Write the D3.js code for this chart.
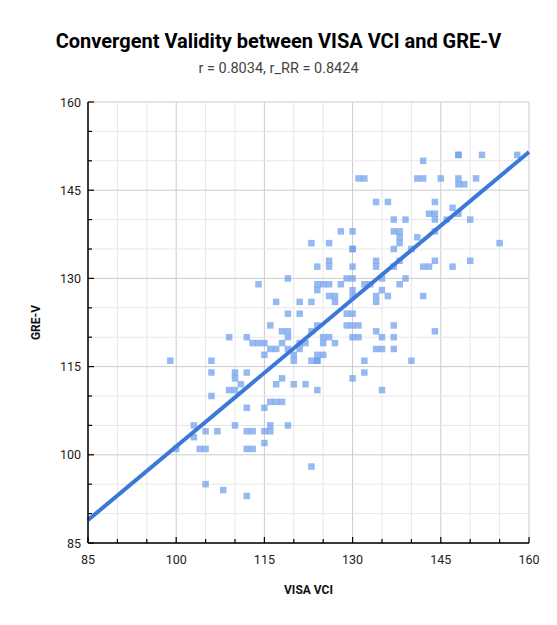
<!DOCTYPE html>
<html>
<head>
<meta charset="utf-8">
<script src="https://cdn.jsdelivr.net/npm/d3@7"></script>
<style>
  body { margin: 0; background: #fff; }
  text { font-family: Roboto, "Noto Sans", sans-serif; }
</style>
</head>
<body>
<div id="chart"></div>
<script>
const titleText = "Convergent Validity between VISA VCI and GRE-V"
const subtitleText = "r = 0.8034, r_RR = 0.8424"
const xLabel = "VISA VCI"
const yLabel = "GRE-V"

const majorTicks = [85, 100, 115, 130, 145, 160]
const minorTicks = d3.range(85, 161, 5)

// VISA VCI score for each student
const vci = [131, 132, 141, 142, 145, 148, 151, 148, 149, 148, 148, 152, 158, 142,
  134, 136, 144, 147, 143, 144, 148, 137, 139, 144, 146, 150, 128, 130, 137, 138,
  144, 138, 141, 123, 126, 138, 155, 130, 130, 137, 140, 126, 134, 138, 144, 150,
  124, 126, 130, 134, 137, 142, 143, 147, 119, 129, 130, 135, 139, 114, 124, 125,
  126, 128, 132, 133, 138, 124, 130, 135, 126, 127, 130, 134, 136, 142, 117, 121,
  123, 127, 134, 119, 121, 129, 130, 116, 124, 129, 130, 131, 137, 118, 119, 123, 134,
  144, 109, 112, 119, 125, 126, 130, 131, 135, 137, 113, 114, 115, 118, 121, 122,
  125, 127, 116, 117, 119, 121, 134, 135, 137, 115, 120, 124, 125, 99, 106, 120,
  123, 124, 124, 132, 140, 106, 110, 112, 132, 110, 118, 130, 111, 117, 120, 122,
  109, 110, 124, 135, 106, 116, 117, 118, 112, 115, 103, 110, 116, 119, 105, 107,
  112, 113, 115, 116, 103, 115, 100, 104, 105, 112, 113, 123, 105, 108, 112]
// GRE-V (scaled) score for the same students
const greV = [147, 147, 147, 147, 147, 147, 147, 146, 146, 151, 151, 151, 151, 150,
  143, 143, 143, 142, 141, 141, 141, 140, 140, 140, 140, 140, 138, 138, 138, 138,
  138, 137, 137, 136, 136, 136, 136, 135, 135, 135, 135, 133, 133, 133, 133, 133,
  132, 132, 132, 132, 132, 132, 132, 132, 130, 130, 130, 130, 130, 129, 129, 129,
  129, 129, 129, 129, 129, 128, 128, 128, 127, 127, 127, 127, 127, 127, 126, 126,
  126, 126, 126, 124, 124, 124, 124, 122, 122, 122, 122, 122, 122, 121, 121, 121, 121,
  121, 120, 120, 120, 120, 120, 120, 120, 120, 120, 119, 119, 119, 119, 119, 119,
  119, 119, 118, 118, 118, 118, 118, 118, 118, 117, 117, 117, 117, 116, 116, 116,
  116, 116, 116, 116, 116, 114, 114, 114, 114, 113, 113, 113, 112, 112, 112, 112,
  111, 111, 111, 111, 110, 109, 109, 109, 108, 108, 105, 105, 105, 105, 104, 104,
  104, 104, 104, 104, 103, 102, 101, 101, 101, 101, 101, 98, 95, 94, 93]

// fitted trend line, read at both ends of the axis
const trendX = [85, 160]
const trendY = [88.9, 151.5]

const width = 557
const height = 625
const margin = { top: 102, right: 28, bottom: 82, left: 88 }
const innerW = width - margin.left - margin.right
const innerH = height - margin.top - margin.bottom

const svg = d3.select("#chart").append("svg")
  .attr("width", width)
  .attr("height", height)

svg.append("text")
  .attr("x", width / 2).attr("y", 48)
  .attr("text-anchor", "middle")
  .style("font-size", "20px").style("font-weight", "bold").style("fill", "#000")
  .text(titleText)

svg.append("text")
  .attr("x", width / 2).attr("y", 73)
  .attr("text-anchor", "middle")
  .style("font-size", "14.5px").style("fill", "#444")
  .text(subtitleText)

const g = svg.append("g")
  .attr("transform", `translate(${margin.left},${margin.top})`)

const x = d3.scaleLinear().domain([85, 160]).range([0, innerW])
const y = d3.scaleLinear().domain([85, 160]).range([innerH, 0])

// grid
g.append("g").selectAll("line.vx")
  .data(minorTicks).enter().append("line")
  .attr("x1", d => x(d)).attr("x2", d => x(d))
  .attr("y1", 0).attr("y2", innerH)
  .style("stroke", d => majorTicks.includes(d) ? "#cccccc" : "#e6e6e6")
  .style("stroke-width", 1)
g.append("g").selectAll("line.hy")
  .data(minorTicks).enter().append("line")
  .attr("y1", d => y(d)).attr("y2", d => y(d))
  .attr("x1", 0).attr("x2", innerW)
  .style("stroke", d => majorTicks.includes(d) ? "#cccccc" : "#e6e6e6")
  .style("stroke-width", 1)

// points
const points = vci.map((v, i) => ({ x: v, y: greV[i] }))
const sz = 6.5
g.append("g").selectAll("rect")
  .data(points).enter().append("rect")
  .attr("x", d => x(d.x) - sz / 2)
  .attr("y", d => y(d.y) - sz / 2)
  .attr("width", sz).attr("height", sz)
  .style("fill", "#6d9eeb")
  .style("opacity", 0.72)

// trend line
g.append("line")
  .attr("x1", x(trendX[0])).attr("y1", y(trendY[0]))
  .attr("x2", x(trendX[1])).attr("y2", y(trendY[1]))
  .style("stroke", "#3c78d8")
  .style("stroke-width", 4)

// axes
const xAxis = g.append("g").attr("transform", `translate(0,${innerH})`)
xAxis.append("line").attr("x1", 0).attr("x2", innerW)
  .style("stroke", "#000").style("stroke-width", 1.5)
xAxis.selectAll("line.tk").data(minorTicks).enter().append("line")
  .attr("x1", d => x(d)).attr("x2", d => x(d))
  .attr("y1", 0).attr("y2", d => majorTicks.includes(d) ? -6 : -4)
  .style("stroke", "#000").style("stroke-width", 1.2)
xAxis.selectAll("text").data(majorTicks).enter().append("text")
  .attr("x", d => x(d)).attr("y", 21)
  .attr("text-anchor", "middle")
  .style("font-size", "12.5px").style("fill", "#222")
  .text(d => d)

const yAxis = g.append("g")
yAxis.append("line").attr("y1", 0).attr("y2", innerH)
  .style("stroke", "#000").style("stroke-width", 1.5)
yAxis.selectAll("line.tk").data(minorTicks).enter().append("line")
  .attr("y1", d => y(d)).attr("y2", d => y(d))
  .attr("x1", 0).attr("x2", d => majorTicks.includes(d) ? 6 : 4)
  .style("stroke", "#000").style("stroke-width", 1.2)
yAxis.selectAll("text").data(majorTicks).enter().append("text")
  .attr("x", -7).attr("y", d => y(d) + 4.5)
  .attr("text-anchor", "end")
  .style("font-size", "12.5px").style("fill", "#222")
  .text(d => d)

svg.append("text")
  .attr("x", margin.left + innerW / 2).attr("y", 594)
  .attr("text-anchor", "middle")
  .style("font-size", "12px").style("font-weight", "bold").style("fill", "#111")
  .text(xLabel)

svg.append("text")
  .attr("transform", `translate(40,${margin.top + innerH / 2}) rotate(-90)`)
  .attr("text-anchor", "middle")
  .style("font-size", "12px").style("font-weight", "bold").style("fill", "#111")
  .text(yLabel)
</script>
</body>
</html>
